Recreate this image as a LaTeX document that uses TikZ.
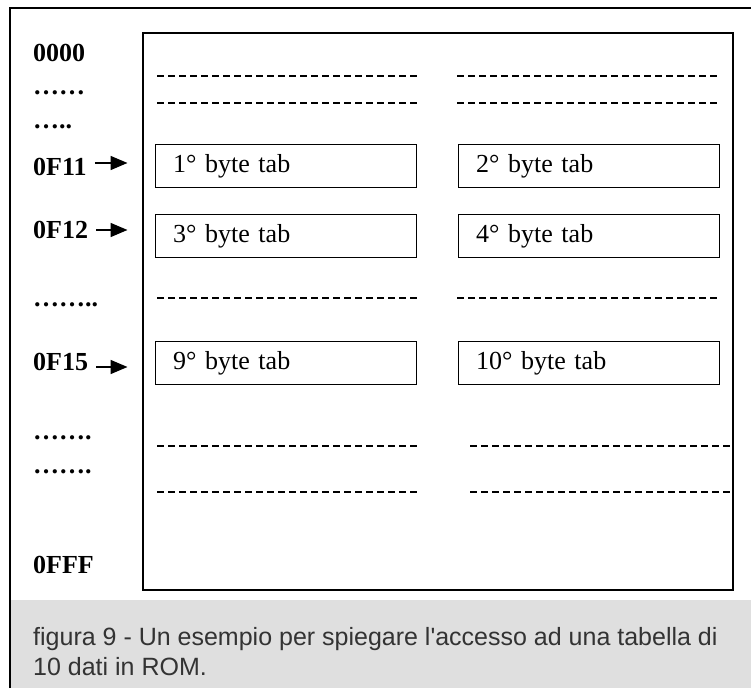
\documentclass[tikz,border=0pt]{standalone}
\usepackage{fontspec}
\setmainfont{Liberation Serif}
\newfontfamily\capfont{Liberation Sans}
\usetikzlibrary{positioning,calc,arrows.meta}

\begin{document}
\begin{tikzpicture}[x=1pt,y=1pt,
  tabbox/.style={draw, rectangle, line width=1pt, minimum height=43pt, text width=225pt, inner xsep=18pt, align=left, font=\fontsize{26}{28}\selectfont},
  addr/.style={anchor=west, inner sep=0pt, font=\fontsize{26}{28}\selectfont\bfseries},
  dashline/.style={line width=1.3pt, dash pattern=on 7pt off 4pt},
  arr/.style={line width=1.6pt, -{Triangle[length=17pt,width=14pt]}},
  captext/.style={anchor=base west, inner sep=0pt, text=black!80, font=\capfont\fontsize{25}{30}\selectfont}]
\useasboundingbox (0,0) rectangle (751,688);
\fill[gray!25] (11,0) rectangle (751,88);
\draw[line width=1.6pt] (10,0) -- (10,680) -- (751,680);
\draw[line width=2.2pt] (143,655) rectangle (733,98);

\node[tabbox] (b1) at (285.5,521.5) {1° byte tab};
\node[tabbox] (b2) [right=41pt of b1] {2° byte tab};
\node[tabbox] (b3) [below=26pt of b1] {3° byte tab};
\node[tabbox] (b4) [right=41pt of b3] {4° byte tab};
\node[tabbox] (b5) [below=83pt of b3] {9° byte tab};
\node[tabbox] (b6) [right=41pt of b5] {10° byte tab};

\node[addr] (a0) at (33,635) {0000};
\node[addr] (d1) at (33,595) {……};
\node[addr] (d2) at (33,561) {…..};
\node[addr] (a11) at (33,521) {0F11};
\node[addr] (a12) at (33,458) {0F12};
\node[addr] (d3) at (33,383) {……..};
\node[addr] (a15) at (33,326) {0F15};
\node[addr] (d4) at (33,250) {…….};
\node[addr] (d5) at (33,216) {…….};
\node[addr] (aff) at (33,123) {0FFF};

\draw[arr] ([xshift=8pt,yshift=4pt]a11.east) -- ($(a11.east -| b1.west)+(-27pt,4pt)$);
\draw[arr] ([xshift=8pt]a12.east) -- ($(a12.east -| b3.west)+(-27pt,0)$);
\draw[arr] ([xshift=8pt,yshift=-5pt]a15.east) -- ($(a15.east -| b5.west)+(-27pt,-5pt)$);

\foreach \y in {612,585,390} {
  \draw[dashline] (157,\y) -- (417,\y);
  \draw[dashline] (457,\y) -- (718,\y);
}
\foreach \y in {242,196} {
  \draw[dashline] (157,\y) -- (417,\y);
  \draw[dashline] (470,\y) -- (732,\y);
}

\node[captext] (cap1) at (33,43) {figura 9 - Un esempio per spiegare l'accesso ad una tabella di};
\node[captext] (cap2) at (33,13) {10 dati in ROM.};
\end{tikzpicture}
\end{document}
